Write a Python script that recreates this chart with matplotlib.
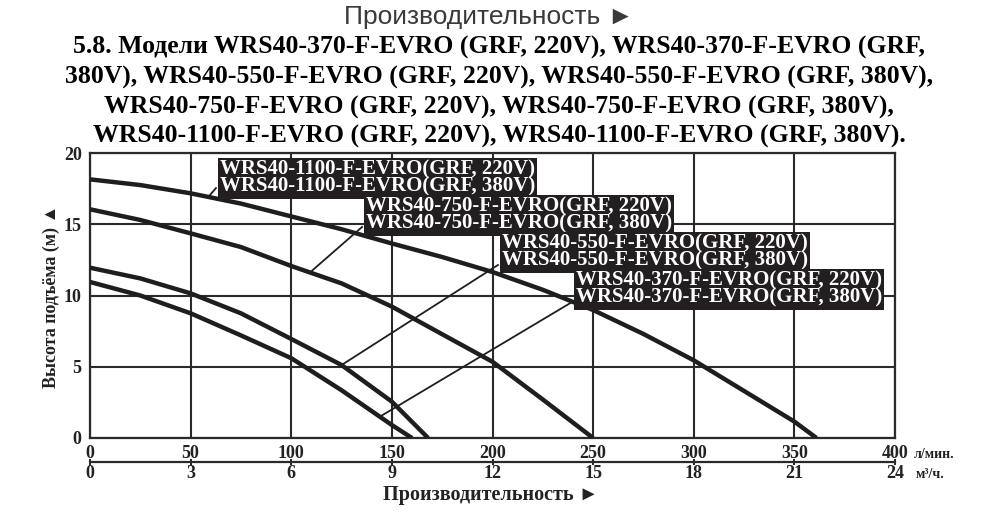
import numpy as np
import matplotlib
matplotlib.use("Agg")
import matplotlib.pyplot as plt

# ---------------- data ----------------
x_1100 = [0, 25, 50, 75, 100, 125, 150, 175, 200, 225, 250, 275, 300, 325, 350, 361]
h_1100 = [18.15, 17.75, 17.17, 16.45, 15.55, 14.65, 13.65, 12.7, 11.65, 10.4, 8.98, 7.3, 5.45, 3.3, 1.15, 0]
x_750 = [0, 25, 50, 75, 100, 125, 150, 175, 200, 225, 250]
h_750 = [16.05, 15.3, 14.36, 13.4, 12.07, 10.85, 9.22, 7.28, 5.35, 2.7, 0]
x_550 = [0, 25, 50, 75, 100, 125, 150, 168]
h_550 = [11.95, 11.2, 10.15, 8.75, 6.95, 5.12, 2.55, 0]
x_370 = [0, 25, 50, 75, 100, 125, 150, 160]
h_370 = [10.95, 10.0, 8.75, 7.2, 5.6, 3.35, 0.91, 0]

labels_1100 = ["WRS40-1100-F-EVRO(GRF, 220V)", "WRS40-1100-F-EVRO(GRF, 380V)"]
labels_750 = ["WRS40-750-F-EVRO(GRF, 220V)", "WRS40-750-F-EVRO(GRF, 380V)"]
labels_550 = ["WRS40-550-F-EVRO(GRF, 220V)", "WRS40-550-F-EVRO(GRF, 380V)"]
labels_370 = ["WRS40-370-F-EVRO(GRF, 220V)", "WRS40-370-F-EVRO(GRF, 380V)"]

x_ticks_lpm = [0, 50, 100, 150, 200, 250, 300, 350, 400]
x_ticks_m3h = [0, 3, 6, 9, 12, 15, 18, 21, 24]
y_ticks = [0, 5, 10, 15, 20]

title_lines = [
    "5.8. Модели WRS40-370-F-EVRO (GRF, 220V), WRS40-370-F-EVRO (GRF,",
    "380V), WRS40-550-F-EVRO (GRF, 220V), WRS40-550-F-EVRO (GRF, 380V),",
    "WRS40-750-F-EVRO (GRF, 220V), WRS40-750-F-EVRO (GRF, 380V),",
    "WRS40-1100-F-EVRO (GRF, 220V), WRS40-1100-F-EVRO (GRF, 380V).",
]
top_text = "Производительность ►"
x_label = "Производительность ►"
y_label = "Высота подъёма (м) ▲"
unit_lpm = "л/мин."
unit_m3h = "м³/ч."

# ---------------- figure ----------------
W, H = 1000, 516
fig = plt.figure(figsize=(W / 100, H / 100), dpi=100)
SERIF = ["Liberation Serif", "DejaVu Serif"]
SANS = ["Liberation Sans", "DejaVu Sans"]

def fy(py):
    return 1 - py / H

ax = fig.add_axes([90 / W, fy(438), 805 / W, 285 / H])
ax.set_xlim(0, 400)
ax.set_ylim(0, 20)
ax.set_xticks(x_ticks_lpm)
ax.set_yticks(y_ticks)
ax.set_xticklabels([str(v) for v in x_ticks_lpm], fontfamily=SERIF, fontweight="bold", fontsize=13)
ax.set_yticklabels([str(v) for v in y_ticks], fontfamily=SERIF, fontweight="bold", fontsize=13)
ax.tick_params(axis="both", length=0, colors="#222222")
ax.tick_params(axis="x", pad=5)
ax.tick_params(axis="y", pad=6)
ax.grid(True, color="#2a2a2a", lw=1.5)
ax.set_axisbelow(True)
for sp in ax.spines.values():
    sp.set_color("#2a2a2a")
    sp.set_linewidth(1.6)

curve_kw = dict(color="#1e1e1e", lw=3.2, solid_capstyle="butt", solid_joinstyle="round", zorder=3)
ax.plot(x_1100, h_1100, **curve_kw)
ax.plot(x_750, h_750, **curve_kw)
ax.plot(x_550, h_550, **curve_kw)
ax.plot(x_370, h_370, **curve_kw)

# secondary axis m3/h
sec = ax.secondary_xaxis(-(462 - 438) / 285, functions=(lambda x: x * 0.06, lambda x: x / 0.06))
sec.set_xticks(x_ticks_m3h)
sec.set_xticklabels([str(v) for v in x_ticks_m3h], fontfamily=SERIF, fontweight="bold", fontsize=13)
sec.tick_params(axis="x", direction="inout", length=5, width=1.4, pad=0, colors="#222222")
sec.spines["bottom"].set_linewidth(1.6)
sec.spines["bottom"].set_color("#2a2a2a")

# labels with leaders: (box-left x, box-top y, box-bottom y, leader target x, curve)
boxes = [
    (labels_1100, 62.6, 19.72, 17.54, 58.8, x_1100, h_1100),
    (labels_750, 135.2, 17.12, 14.81, 109.3, x_750, h_750),
    (labels_550, 202.7, 14.53, 12.14, 125.0, x_550, h_550),
    (labels_370, 239.5, 11.93, 9.54, 144.0, x_370, h_370),
]
for lines, bx, btop, bbot, tx, cx, cy in boxes:
    ty = float(np.interp(tx, cx, cy))
    ax.plot([bx, tx], [bbot, ty], color="#1e1e1e", lw=1.3, zorder=4)
    ax.annotate("\n".join(lines), xy=(bx, btop), xytext=(3, -2), textcoords="offset points",
                ha="left", va="top", color="white", fontfamily=SERIF, fontweight="bold",
                fontsize=15, linespacing=0.78, zorder=6,
                bbox=dict(boxstyle="square,pad=0.1", fc="#231f20", ec="none"))

# texts
fig.text(489 / W, fy(24), top_text, ha="center", va="baseline", fontfamily=SANS,
         fontsize=19, color="#3a3a3a")
for line, base in zip(title_lines, [54, 84, 114, 143]):
    fig.text(499 / W, fy(base), line, ha="center", va="baseline", fontfamily=SERIF,
             fontweight="bold", fontsize=18.5, color="black")
fig.text(491 / W, fy(500), x_label, ha="center", va="baseline", fontfamily=SERIF,
         fontweight="bold", fontsize=14.5, color="#222222")
fig.text(51 / W, fy(296), y_label, ha="center", va="center", rotation=90, fontfamily=SERIF,
         fontweight="bold", fontsize=13, color="#222222")
fig.text(914 / W, fy(458), unit_lpm, ha="left", va="baseline", fontfamily=SERIF,
         fontweight="bold", fontsize=10, color="#222222")
fig.text(916 / W, fy(478), unit_m3h, ha="left", va="baseline", fontfamily=SERIF,
         fontweight="bold", fontsize=10, color="#222222")

fig.savefig("out.png", dpi=100, facecolor="white")
